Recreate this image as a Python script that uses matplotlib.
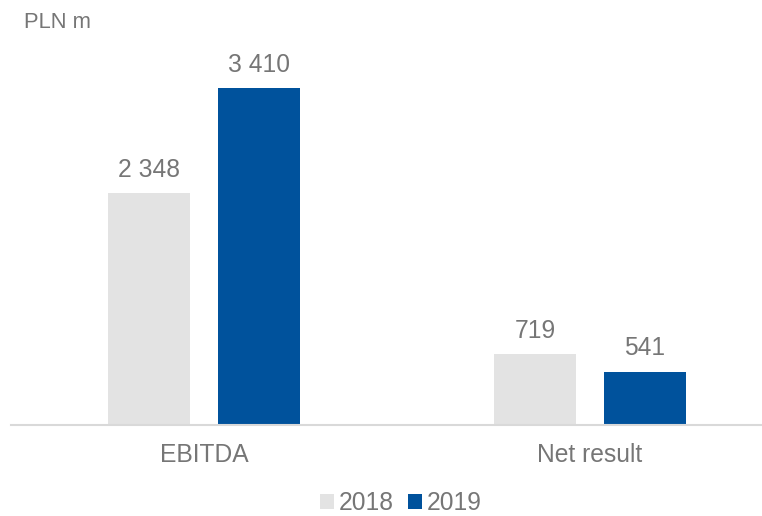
import matplotlib
matplotlib.use("Agg")
import matplotlib.pyplot as plt
import numpy as np

categories = ["EBITDA", "Net result"]
series_names = ["2018", "2019"]
values_2018 = [2348, 719]
values_2019 = [3410, 541]
colors = ["#E3E3E3", "#00529C"]
text_color = "#767676"

plt.rcParams['font.family'] = ['Liberation Sans', 'DejaVu Sans']

W, H = 762, 516
fig = plt.figure(figsize=(W/100, H/100), dpi=100)
ax = fig.add_axes([11/W, (H-425)/H, 772/W, 395/H])
ax.set_xlim(-0.5, 1.5)
ax.set_ylim(0, 4000)

x = np.arange(len(categories))
bw = 0.2124
off = 0.1425
for vals, name, col, sgn in [(values_2018, series_names[0], colors[0], -1),
                             (values_2019, series_names[1], colors[1], 1)]:
    bars = ax.bar(x + sgn*off, vals, width=bw, color=col, label=name, zorder=2)
    for b, v in zip(bars, vals):
        s = f"{v:,}".replace(",", " ")
        ax.annotate(s, (b.get_x() + b.get_width()/2, v), xytext=(0, 8),
                    textcoords="offset points", ha="center", va="bottom",
                    fontsize=17.7, color=text_color)

for sp in ["top", "right", "left"]:
    ax.spines[sp].set_visible(False)
ax.spines["bottom"].set_color("#D9D9D9")
ax.spines["bottom"].set_linewidth(1.5)
ax.set_yticks([])
ax.set_xticks(x)
ax.set_xticklabels(categories, fontsize=17.7, color=text_color)
ax.tick_params(axis="x", length=0, pad=13)

fig.text(24/W, 1 - 22/H, "PLN m", fontsize=15.8, color=text_color, ha="left", va="center")

leg = fig.legend(loc="center", bbox_to_anchor=(401/W, 1 - 503/H), ncol=2, frameon=False,
                 fontsize=17.7, handlelength=0.55, handleheight=0.55, handletextpad=0.2,
                 columnspacing=0.6, borderpad=0.1)
for t in leg.get_texts():
    t.set_color(text_color)

fig.savefig("out.png", dpi=100)
